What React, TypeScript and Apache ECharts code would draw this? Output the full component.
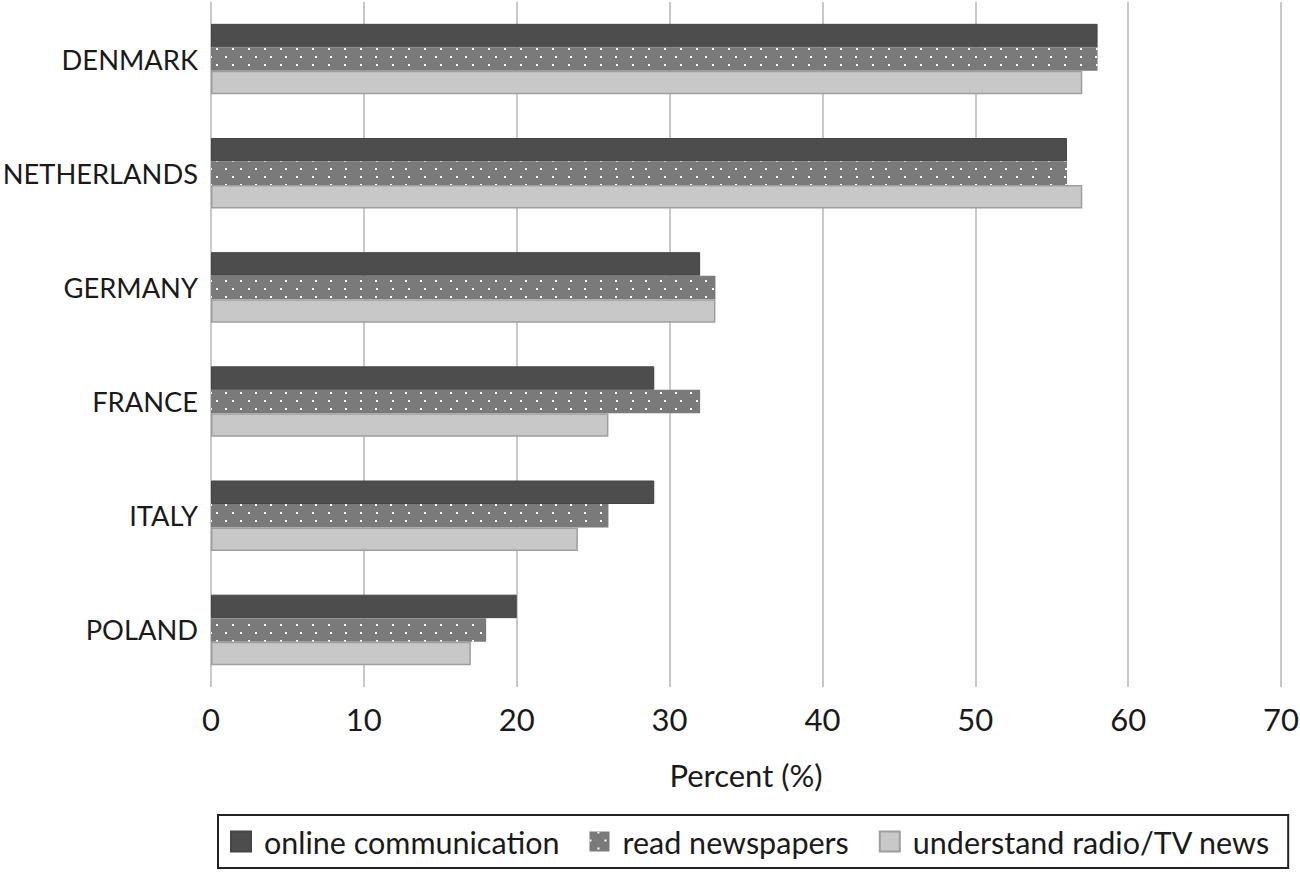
import React, { useEffect, useRef } from "react";
import * as echarts from "echarts";

const countries = ["DENMARK", "NETHERLANDS", "GERMANY", "FRANCE", "ITALY", "POLAND"];
const onlineCommunication = [58, 56, 32, 29, 29, 20];
const readNewspapers = [58, 56, 33, 32, 26, 18];
const understandRadioTV = [57, 57, 33, 26, 24, 17];
const seriesNames = ["online communication", "read newspapers", "understand radio/TV news"];
const xTicks = [0, 10, 20, 30, 40, 50, 60, 70];

const FONT = "Lato, 'Open Sans', sans-serif";

export default function App() {
  const ref = useRef<HTMLDivElement>(null);
  useEffect(() => {
    if (!ref.current) return;
    const chart = echarts.init(ref.current, null, { renderer: "svg" });
    chart.setOption({
      animation: false,
      backgroundColor: "#ffffff",
      aria: { enabled: false },
      grid: { left: 211, right: 19, top: 2, bottom: 185, containLabel: false, outerBoundsMode: "none" },
      xAxis: {
        type: "value",
        min: xTicks[0],
        max: xTicks[xTicks.length - 1],
        interval: 10,
        name: "Percent (%)",
        nameLocation: "middle",
        nameGap: 72,
        nameTextStyle: { fontFamily: FONT, fontSize: 31, color: "#1a1a1a" },
        axisLine: { show: false },
        axisTick: { show: false },
        axisLabel: { fontFamily: FONT, fontSize: 31, color: "#1a1a1a", margin: 16 },
        splitLine: { show: true, lineStyle: { color: "#c8c8c8", width: 2 } },
      },
      yAxis: {
        type: "category",
        data: countries,
        inverse: true,
        axisLine: { show: false },
        axisTick: { show: false },
        axisLabel: { fontFamily: FONT, fontSize: 27.3, color: "#1a1a1a", margin: 13 },
        splitLine: { show: false },
      },
      legend: {
        bottom: 4,
        left: 218,
        icon: "rect",
        itemWidth: 20,
        itemHeight: 20,
        itemGap: 30,
        padding: [11, 18, 11, 12],
        borderColor: "#222",
        borderWidth: 2,
        textStyle: { fontFamily: FONT, fontSize: 30.5, color: "#1a1a1a", padding: [0, 0, 0, 8] },
        data: seriesNames,
      },
      series: [
        {
          name: seriesNames[0],
          type: "bar",
          data: onlineCommunication,
          barWidth: 23.5,
          barGap: "0%",
          itemStyle: { color: "#4d4d4d", borderColor: "#454545", borderWidth: 1 },
        },
        {
          name: seriesNames[1],
          type: "bar",
          data: readNewspapers,
          barWidth: 23.5,
          barGap: "0%",
          itemStyle: {
            color: "#7a7a7a",
            decal: {
              symbol: "rect",
              symbolSize: 1,
              color: "#ffffff",
              dashArrayX: [[2, 13], [0, 7.5, 2, 5.5]],
              dashArrayY: [2, 5.5],
              rotation: 0,
            },
          },
        },
        {
          name: seriesNames[2],
          type: "bar",
          data: understandRadioTV,
          barWidth: 23.5,
          barGap: "0%",
          itemStyle: { color: "#c8c8c8", borderColor: "#9e9e9e", borderWidth: 1.5 },
        },
      ],
    });
    return () => chart.dispose();
  }, []);
  return <div ref={ref} style={{ width: 1300, height: 872, position: "absolute", left: 0, top: 0 }} />;
}
